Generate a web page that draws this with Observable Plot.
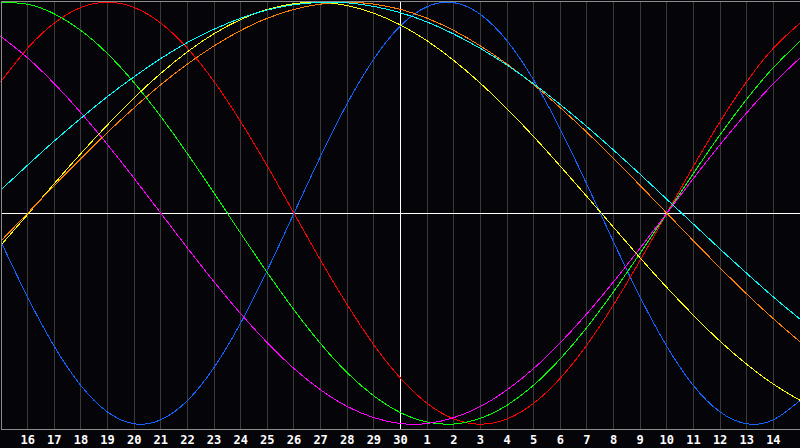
<!DOCTYPE html>
<html>
<head>
<meta charset="utf-8">
<script src="https://cdn.jsdelivr.net/npm/d3@7"></script>
<script src="https://cdn.jsdelivr.net/npm/@observablehq/plot@0.6"></script>
<style>
  html, body { margin: 0; padding: 0; background: #050408; }
  #chart svg { display: block; }
</style>
</head>
<body>
<div id="chart"></div>
<script>
// Day labels for the 31 sample positions (15th of previous month .. 15th of next month)
const dayLabels = ["15","16","17","18","19","20","21","22","23","24","25","26","27","28","29","30",
                   "1","2","3","4","5","6","7","8","9","10","11","12","13","14","15"];
// Labelled ticks (positions 1..29) and the highlighted "today" position
const tickDays = [1,2,3,4,5,6,7,8,9,10,11,12,13,14,15,16,17,18,19,20,21,22,23,24,25,26,27,28,29];
const todayIndex = 15;

// Cycle values read per day (range -1 .. 1)
const physical = [-0.136,-0.398,-0.631,-0.817,-0.942,-0.998,-0.979,-0.888,-0.731,-0.520,-0.270,0,0.270,0.520,0.731,0.888,0.979,0.998,0.942,0.817,0.631,0.398,0.136,-0.136,-0.398,-0.631,-0.817,-0.942,-0.998,-0.979,-0.888];
const emotional = [0.624,0.782,0.901,0.975,1.000,0.975,0.901,0.782,0.624,0.434,0.223,0,-0.223,-0.434,-0.624,-0.782,-0.901,-0.975,-1.000,-0.975,-0.901,-0.782,-0.624,-0.434,-0.223,0,0.223,0.434,0.624,0.782,0.901];
const intellectual = [0.999,0.990,0.945,0.866,0.756,0.618,0.458,0.282,0.095,-0.095,-0.282,-0.458,-0.618,-0.756,-0.866,-0.945,-0.990,-0.999,-0.972,-0.910,-0.815,-0.690,-0.541,-0.372,-0.189,0,0.189,0.372,0.541,0.690,0.815];
const intuitive = [0.837,0.736,0.614,0.476,0.325,0.165,0,-0.165,-0.325,-0.476,-0.614,-0.736,-0.837,-0.916,-0.969,-0.997,-0.997,-0.969,-0.916,-0.837,-0.736,-0.614,-0.476,-0.325,-0.165,0,0.165,0.325,0.476,0.614,0.736];
const aesthetic = [-0.151,-0.006,0.140,0.283,0.419,0.547,0.663,0.765,0.851,0.918,0.966,0.993,1.000,0.984,0.948,0.892,0.817,0.724,0.616,0.495,0.363,0.223,0.079,-0.067,-0.212,-0.352,-0.484,-0.607,-0.716,-0.810,-0.887];
const awareness = [-0.131,0,0.131,0.259,0.383,0.500,0.609,0.707,0.793,0.866,0.924,0.966,0.991,1.000,0.991,0.966,0.924,0.866,0.793,0.707,0.609,0.500,0.383,0.259,0.131,0,-0.131,-0.259,-0.383,-0.500,-0.609];
const spiritual = [0.111,0.228,0.342,0.450,0.553,0.647,0.733,0.809,0.872,0.924,0.963,0.988,0.999,0.997,0.980,0.950,0.906,0.849,0.781,0.702,0.613,0.515,0.410,0.299,0.184,0.066,-0.052,-0.170,-0.285,-0.397,-0.502];

const seriesNames = ["physical","emotional","intellectual","intuitive","aesthetic","awareness","spiritual"];
const seriesValues = [physical, emotional, intellectual, intuitive, aesthetic, awareness, spiritual];
const seriesColors = ["#1064ff","#ff0000","#00ff00","#ff00ff","#ffff00","#ff8000","#00ffff"];

const rows = [];
seriesNames.forEach((name, s) => {
  seriesValues[s].forEach((v, i) => rows.push({series: name, day: i, value: v}));
});
const gridDays = tickDays.filter(d => d !== todayIndex);

const chart = Plot.plot({
  width: 800,
  height: 448,
  marginLeft: 0.5,
  marginRight: 0.5,
  marginTop: 0.5,
  marginBottom: 19.5,
  style: {
    background: "#050408",
    color: "#ffffff",
    fontFamily: "'DejaVu Sans Mono', monospace",
    fontSize: "12px",
    fontWeight: "bold",
    shapeRendering: "crispEdges"
  },
  x: {domain: [0, 30], label: null},
  y: {domain: [-1.0227, 1.0057], axis: null, label: null},
  color: {domain: seriesNames, range: seriesColors},
  marks: [
    Plot.ruleX(gridDays, {stroke: "#3a3a3a", strokeWidth: 1}),
    Plot.ruleX([todayIndex], {stroke: "#ffffff", strokeWidth: 1}),
    Plot.ruleY([0], {stroke: "#ffffff", strokeWidth: 1}),
    Plot.line(rows, {x: "day", y: "value", z: "series", stroke: "series", strokeWidth: 1, curve: "natural"}),
    Plot.frame({stroke: "#8c8c8c", strokeWidth: 1}),
    Plot.axisX({ticks: tickDays, tickFormat: d => dayLabels[d], tickSize: 0, tickPadding: 6, label: null, fill: "#ffffff", fontWeight: "bold", fontSize: 12})
  ]
});
document.getElementById("chart").appendChild(chart);
</script>
</body>
</html>
